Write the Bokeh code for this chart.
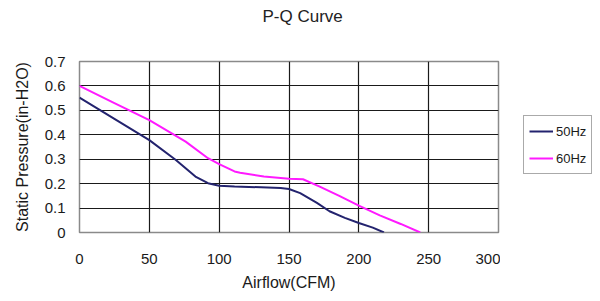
from bokeh.plotting import figure
from bokeh.models import FixedTicker, Range1d, Legend, LegendItem, Title
from bokeh.layouts import row
from bokeh.embed import file_html
from bokeh.resources import INLINE

# Data
airflow_50 = [0, 25, 50, 69, 83, 92, 100, 111, 130, 144, 150, 158, 170, 179, 190, 200, 210, 218]
pressure_50 = [0.552, 0.465, 0.378, 0.297, 0.229, 0.202, 0.191, 0.188, 0.185, 0.182, 0.178,
               0.161, 0.121, 0.087, 0.06, 0.039, 0.02, 0.0]
airflow_60 = [0, 25, 50, 76, 92, 100, 111, 115, 132, 150, 160, 172, 186, 200, 215, 230, 244]
pressure_60 = [0.60, 0.53, 0.46, 0.372, 0.304, 0.28, 0.25, 0.245, 0.229, 0.22, 0.218,
               0.188, 0.15, 0.11, 0.07, 0.035, 0.0]

x_ticks = [0, 50, 100, 150, 200, 250, 300]
x_tick_labels = ["0", "50", "100", "150", "200", "250", "300"]
y_ticks = [0.0, 0.1, 0.2, 0.3, 0.4, 0.5, 0.6, 0.7]
y_tick_labels = ["0", "0.1", "0.2", "0.3", "0.4", "0.5", "0.6", "0.7"]

series_names = ["50Hz", "60Hz"]
series_colors = ["#23236e", "#ff1aff"]
chart_title = "P-Q Curve"

FONT = "Liberation Sans"

p = figure(width=500, height=293, output_backend="svg", toolbar_location=None,
           x_range=Range1d(0, 300), y_range=Range1d(0, 0.7),
           min_border_left=79, min_border_right=2, min_border_top=61, min_border_bottom=60)

# spacer between the frame and the title (above)
top_spacer = Title(text=" ", text_font=FONT, text_font_size="16px", standoff=15)
p.add_layout(top_spacer, "above")
main_title = Title(text=chart_title, align="left", offset=183, text_font=FONT,
                   text_font_size="17px", text_font_style="normal",
                   text_color="#222222", standoff=4)
p.add_layout(main_title, "above")

p.outline_line_color = "#8a8a8a"
p.outline_line_width = 1.5

p.xaxis.ticker = FixedTicker(ticks=x_ticks)
p.yaxis.ticker = FixedTicker(ticks=y_ticks)
p.xaxis.major_label_overrides = {t: l for t, l in zip(x_ticks, x_tick_labels)}
p.yaxis.major_label_overrides = {t: l for t, l in zip(y_ticks, y_tick_labels)}

for ax in (p.xaxis, p.yaxis):
    ax.axis_line_color = None
    ax.major_tick_line_color = None
    ax.minor_tick_line_color = None
    ax.major_tick_out = 0
    ax.major_tick_in = 0
    ax.major_label_text_font = FONT
    ax.major_label_text_font_size = "15px"
    ax.major_label_text_color = "#1a1a1a"
    ax.axis_label_text_font = FONT
    ax.axis_label_text_font_size = "16px"
    ax.axis_label_text_font_style = "normal"
    ax.axis_label_text_color = "#1a1a1a"

p.xaxis.axis_label = "Airflow(CFM)"
p.yaxis.axis_label = "Static Pressure(in-H2O)"
p.xaxis.major_label_standoff = 21
p.xaxis.axis_label_standoff = 7
p.yaxis.major_label_standoff = 14
p.yaxis.axis_label_standoff = 11

p.xgrid.grid_line_color = "#1a1a1a"
p.ygrid.grid_line_color = "#1a1a1a"
p.xgrid.grid_line_width = 1.2
p.ygrid.grid_line_width = 1.2

p.line(airflow_50, pressure_50, line_color=series_colors[0], line_width=2)
p.line(airflow_60, pressure_60, line_color=series_colors[1], line_width=2)

# Legend panel on the right (separate narrow figure so the legend is not clipped)
lg = figure(width=92, height=293, output_backend="svg", toolbar_location=None,
            x_axis_type=None, y_axis_type=None,
            x_range=Range1d(1000, 1001), y_range=Range1d(0, 0.7),
            min_border_left=0, min_border_right=0, min_border_top=0, min_border_bottom=0)
lg.outline_line_color = None
lg.xgrid.visible = False
lg.ygrid.visible = False
l50 = lg.line(airflow_50, pressure_50, line_color=series_colors[0], line_width=2)
l60 = lg.line(airflow_60, pressure_60, line_color=series_colors[1], line_width=2)

legend = Legend(items=[LegendItem(label=series_names[0], renderers=[l50]),
                       LegendItem(label=series_names[1], renderers=[l60])],
                location=(23, 58))
legend.label_text_font = FONT
legend.label_text_font_size = "13px"
legend.label_text_color = "#1a1a1a"
legend.glyph_width = 24
legend.glyph_height = 20
legend.label_height = 20
legend.label_standoff = 3
legend.padding = 5
legend.spacing = 7
legend.margin = 0
legend.border_line_color = "#555555"
legend.border_line_width = 1
legend.background_fill_color = "white"
legend.background_fill_alpha = 1.0
lg.add_layout(legend, "center")

layout = row(p, lg)
open("out.html", "w").write(file_html(layout, INLINE))
